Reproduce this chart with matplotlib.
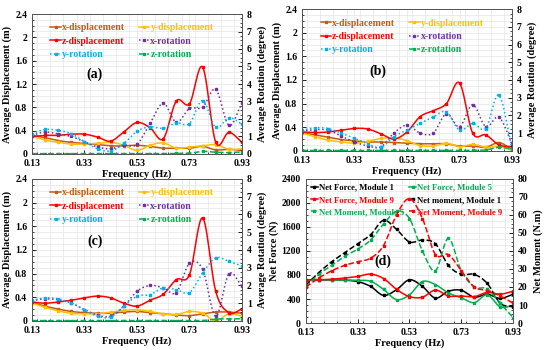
import numpy as np
import matplotlib
matplotlib.use("Agg")
import matplotlib.pyplot as plt
from matplotlib.ticker import MultipleLocator

plt.rcParams['font.family'] = ['Liberation Serif', 'DejaVu Serif']
plt.rcParams['font.weight'] = 'bold'

freq = [0.13, 0.18, 0.23, 0.28, 0.33, 0.38, 0.43, 0.48, 0.53,
        0.58, 0.63, 0.68, 0.73, 0.78, 0.83, 0.88, 0.93]

# panel (a)
a_xdisp = [0.32, 0.28, 0.23, 0.20, 0.18, 0.16, 0.14, 0.14, 0.15, 0.13, 0.10, 0.10, 0.10, 0.13, 0.07, 0.08, 0.06]
a_ydisp = [0.30, 0.24, 0.20, 0.17, 0.17, 0.18, 0.20, 0.15, 0.06, 0.15, 0.19, 0.10, 0.12, 0.14, 0.16, 0.08, 0.09]
a_zdisp = [0.30, 0.32, 0.32, 0.34, 0.34, 0.29, 0.22, 0.38, 0.54, 0.45, 0.26, 0.91, 0.86, 1.49, 0.20, 0.37, 0.20]
a_xrot = [1.07, 1.25, 1.15, 1.00, 0.70, 0.40, 0.30, 0.50, 0.55, 1.75, 2.90, 1.81, 2.60, 2.67, 3.70, 1.64, 2.90]
a_yrot = [1.16, 1.40, 1.35, 1.16, 0.70, 0.30, 0.17, 0.60, 1.30, 1.55, 1.47, 1.78, 1.74, 3.05, 1.52, 2.08, 1.70]
a_zrot = [0.02, 0.02, 0.02, 0.02, 0.02, 0.02, 0.02, 0.02, 0.02, 0.02, 0.02, 0.03, 0.05, 0.15, 0.10, 0.08, 0.12]

# panel (b)
b_xdisp = [0.31, 0.27, 0.23, 0.19, 0.17, 0.15, 0.15, 0.14, 0.13, 0.12, 0.12, 0.12, 0.08, 0.08, 0.06, 0.14, 0.02]
b_ydisp = [0.30, 0.24, 0.18, 0.15, 0.13, 0.16, 0.21, 0.22, 0.17, 0.09, 0.08, 0.13, 0.07, 0.11, 0.06, 0.07, 0.01]
b_zdisp = [0.32, 0.31, 0.32, 0.35, 0.38, 0.37, 0.29, 0.20, 0.32, 0.58, 0.68, 0.80, 1.15, 0.30, 0.27, 0.10, 0.07]
b_xrot = [1.13, 1.20, 1.17, 0.83, 0.50, 0.28, 0.22, 1.00, 1.45, 1.00, 1.00, 2.10, 1.36, 2.60, 1.36, 1.90, 0.40]
b_yrot = [1.17, 1.30, 1.26, 1.00, 0.70, 0.41, 0.19, 0.80, 1.17, 1.55, 1.92, 2.20, 1.17, 1.55, 1.26, 3.15, 0.13]
b_zrot = [0.02, 0.02, 0.02, 0.02, 0.02, 0.02, 0.02, 0.02, 0.02, 0.02, 0.02, 0.02, 0.02, 0.03, 0.05, 0.20, 0.10]

# panel (c)
c_xdisp = [0.31, 0.25, 0.20, 0.16, 0.14, 0.13, 0.13, 0.15, 0.16, 0.14, 0.12, 0.10, 0.09, 0.12, 0.15, 0.15, 0.13]
c_ydisp = [0.30, 0.23, 0.17, 0.13, 0.12, 0.12, 0.15, 0.18, 0.19, 0.16, 0.12, 0.11, 0.16, 0.13, 0.00, 0.12, 0.08]
c_zdisp = [0.32, 0.30, 0.32, 0.35, 0.39, 0.42, 0.39, 0.30, 0.25, 0.35, 0.45, 0.70, 0.78, 1.74, 0.50, 0.14, 0.20]
c_xrot = [1.15, 1.24, 1.20, 1.00, 0.64, 0.32, 0.26, 0.83, 1.67, 2.00, 1.86, 1.60, 3.25, 2.90, 0.26, 2.65, 1.95]
c_yrot = [1.16, 1.30, 1.24, 1.00, 0.64, 0.26, 0.22, 0.83, 1.39, 1.48, 1.86, 1.76, 1.60, 2.70, 3.55, 3.35, 3.10]
c_zrot = [0.02, 0.02, 0.02, 0.02, 0.02, 0.02, 0.02, 0.02, 0.02, 0.02, 0.02, 0.02, 0.02, 0.02, 0.10, 0.12, 0.12]

# panel (d)
force_m1 = [720, 720, 720, 715, 690, 610, 460, 555, 720, 610, 415, 530, 545, 430, 480, 410, 480]
force_m5 = [720, 720, 720, 715, 710, 695, 560, 390, 470, 690, 640, 500, 420, 340, 470, 270, 290]
force_m9 = [720, 720, 730, 750, 775, 815, 740, 560, 440, 430, 550, 450, 450, 440, 510, 480, 530]
moment_m1 = [21, 28, 34, 39, 44, 49, 57, 52, 45, 46, 44, 32, 27, 27, 22, 11, 9]
moment_m5 = [20, 27, 32, 37, 41, 46, 55, 62, 58, 40, 29, 47, 29, 20, 19, 11, 3]
moment_m9 = [20, 25, 29, 32, 34, 36, 43, 60, 69, 58, 38, 38, 29, 20, 18, 15, 11]

C_X = '#C55A11'
C_Y = '#FFC000'
C_Z = 'red'
C_XR = '#7030A0'
C_YR = '#00B0F0'
C_ZR = '#00B050'

N = 12  # points per segment for the smoothed line


def smooth(x, y, n=N):
    # catmull-rom curve through the points, like excel's smoothed line
    x = np.asarray(x, float)
    y = np.asarray(y, float)
    px = np.concatenate([[2 * x[0] - x[1]], x, [2 * x[-1] - x[-2]]])
    py = np.concatenate([[2 * y[0] - y[1]], y, [2 * y[-1] - y[-2]]])
    xs, ys = [], []
    t = np.linspace(0, 1, n, endpoint=False)
    for i in range(1, len(px) - 2):
        for arr, out in ((px, xs), (py, ys)):
            p0, p1, p2, p3 = arr[i - 1], arr[i], arr[i + 1], arr[i + 2]
            out.extend(0.5 * (2 * p1 + (-p0 + p2) * t + (2 * p0 - 5 * p1 + 4 * p2 - p3) * t ** 2
                              + (-p0 + 3 * p1 - 3 * p2 + p3) * t ** 3))
    xs.append(x[-1])
    ys.append(y[-1])
    return xs, ys


def draw(ax, y, color, ls, label, marker='s'):
    xs, ys = smooth(freq, y)
    line, = ax.plot(xs, ys, color=color, ls=ls, lw=1.1, marker=marker, ms=2,
                    markevery=N, label=label)
    return line


def style(ax, ax2):
    ax.set_xlim(0.13, 0.93)
    ax.set_xticks([0.13, 0.33, 0.53, 0.73, 0.93])
    ax.set_xticklabels(['0.13', '0.33', '0.53', '0.73', '0.93'])
    ax.xaxis.set_minor_locator(MultipleLocator(0.05))
    ax.grid(True, which='both', color='#e4e4e4', lw=0.5)
    for a in (ax, ax2):
        a.tick_params(labelsize=7, direction='in', length=3, width=0.6)
        a.tick_params(which='minor', direction='in', length=1.5, width=0.5)
        for s in a.spines.values():
            s.set_color('#555555')
            s.set_linewidth(0.7)
    ax.set_xlabel('Frequency (Hz)', fontsize=7.5, fontweight='bold', labelpad=1)


fig = plt.figure(figsize=(5.5, 3.5), dpi=100)
boxes = [(0.058, 0.56, 0.382, 0.40), (0.549, 0.569, 0.382, 0.405),
         (0.058, 0.083, 0.382, 0.406)]
panels = [
    ('(a)', a_xdisp, a_ydisp, a_zdisp, a_xrot, a_yrot, a_zrot, (0.30, 0.57)),
    ('(b)', b_xdisp, b_ydisp, b_zdisp, b_xrot, b_yrot, b_zrot, (0.36, 0.56)),
    ('(c)', c_xdisp, c_ydisp, c_zdisp, c_xrot, c_yrot, c_zrot, (0.30, 0.56)),
]
for box, (tag, xd, yd, zd, xr, yr, zr, tpos) in zip(boxes, panels):
    ax = fig.add_axes(box)
    ax2 = ax.twinx()
    h = []
    h.append(draw(ax, xd, C_X, '-', 'x-displacement'))
    h.append(draw(ax, yd, C_Y, '-', 'y-displacement'))
    h.append(draw(ax, zd, C_Z, '-', 'z-displacement'))
    h.append(draw(ax2, xr, C_XR, ':', 'x-rotation'))
    h.append(draw(ax2, yr, C_YR, ':', 'y-rotation'))
    h.append(draw(ax2, zr, C_ZR, '--', 'z-rotation'))
    ax.set_ylim(0, 2.4)
    ax.set_yticks([0, 0.4, 0.8, 1.2, 1.6, 2.0, 2.4])
    ax.set_yticklabels(['0', '0.4', '0.8', '1.2', '1.6', '2', '2.4'])
    ax.yaxis.set_minor_locator(MultipleLocator(0.1))
    ax2.set_ylim(0, 8)
    ax2.set_yticks(range(0, 9))
    ax2.yaxis.set_minor_locator(MultipleLocator(0.25))
    ax.set_ylabel('Average Displacement (m)', fontsize=7.5, fontweight='bold', labelpad=2)
    ax2.set_ylabel('Average Rotation (degree)', fontsize=7.5, fontweight='bold', labelpad=4)
    style(ax, ax2)
    order = [h[0], h[2], h[4], h[1], h[3], h[5]]
    ax.legend(order, [l.get_label() for l in order], ncol=2, loc='upper left',
              bbox_to_anchor=(0.07, 0.96), frameon=False, fontsize=7,
              labelcolor='linecolor', handlelength=1.1, handletextpad=0.1,
              columnspacing=1.4, labelspacing=0.45, borderaxespad=0)
    ax.text(tpos[0], tpos[1], tag, transform=ax.transAxes, fontsize=10,
            fontweight='bold', ha='center', va='center')

# panel (d)
ax = fig.add_axes((0.556, 0.077, 0.377, 0.412))
ax2 = ax.twinx()
f1 = draw(ax, force_m1, 'black', '-', 'Net Force, Module 1')
f5 = draw(ax, force_m5, C_ZR, '-', 'Net Force, Module 5')
f9 = draw(ax, force_m9, 'red', '-', 'Net Force, Module 9')
m1 = draw(ax2, moment_m1, 'black', '--', 'Net moment, Module 1')
m5 = draw(ax2, moment_m5, C_ZR, '--', 'Net Moment, Module 5')
m9 = draw(ax2, moment_m9, 'red', '--', 'Net Moment, Module 9')
ax.set_ylim(0, 2400)
ax.set_yticks(range(0, 2401, 400))
ax.yaxis.set_minor_locator(MultipleLocator(100))
ax2.set_ylim(0, 80)
ax2.set_yticks(range(0, 81, 10))
ax2.yaxis.set_minor_locator(MultipleLocator(2.5))
ax.set_ylabel('Net Force (N)', fontsize=7.5, fontweight='bold', labelpad=2)
ax2.set_ylabel('Net Moment (N.m)', fontsize=7.5, fontweight='bold', labelpad=4)
style(ax, ax2)
order = [f1, f9, m5, f5, m1, m9]
ax.legend(order, [l.get_label() for l in order], ncol=2, loc='upper left',
          bbox_to_anchor=(0.0, 1.0), frameon=False, fontsize=6.2,
          labelcolor='linecolor', handlelength=0.9, handletextpad=0.1,
          columnspacing=0.5, labelspacing=0.5, borderaxespad=0.15)
ax.text(0.37, 0.43, '(d)', transform=ax.transAxes, fontsize=10,
        fontweight='bold', ha='center', va='center')

fig.savefig('out.png', dpi=100)
